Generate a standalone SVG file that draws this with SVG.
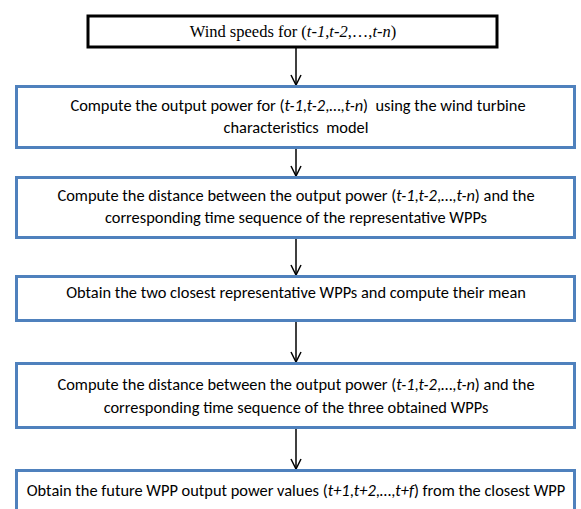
<svg xmlns="http://www.w3.org/2000/svg" width="581" height="509" viewBox="0 0 581 509">
<defs>
<style>
.box{fill:#fff;stroke:#4F81BD;stroke-width:3}
.box1{fill:#fff;stroke:#000;stroke-width:3}
.t{font-family:Calibri,Carlito,Lato,"Liberation Sans",sans-serif;font-size:16.4px;fill:#000;text-anchor:middle;white-space:pre}
.tt{font-family:"Liberation Serif","Times New Roman",serif;font-size:16.5px;fill:#000;text-anchor:middle}
.i{font-style:italic}
.c{stroke:#000;stroke-width:1.5;fill:none}
</style>
<marker id="ah" viewBox="0 0 12 12" refX="11" refY="6" markerWidth="12" markerHeight="12" markerUnits="userSpaceOnUse" orient="auto">
<path d="M1,1 L11,6 L1,11" fill="none" stroke="#000" stroke-width="1.5"/>
</marker>
</defs>
<rect width="581" height="509" fill="#fff"/>
<g id="connectors">
<line class="c" x1="296" y1="47" x2="296" y2="85" marker-end="url(#ah)"/>
<line class="c" x1="296" y1="148" x2="296" y2="176" marker-end="url(#ah)"/>
<line class="c" x1="296" y1="238" x2="296" y2="275" marker-end="url(#ah)"/>
<line class="c" x1="296" y1="321" x2="296" y2="362" marker-end="url(#ah)"/>
<line class="c" x1="296" y1="428" x2="296" y2="469" marker-end="url(#ah)"/>
</g>
<g id="n1">
<rect class="box1" x="88" y="16" width="409" height="31"/>
<text class="tt" x="293" y="37">Wind speeds for (<tspan class="i">t-1</tspan>,<tspan class="i">t-2</tspan>,…,<tspan class="i">t-n</tspan>)</text>
</g>
<g id="n2">
<rect class="box" x="16.5" y="86.5" width="558" height="61"/>
<text class="t" x="298" y="111" xml:space="preserve">Compute the output power for (<tspan class="i">t-1</tspan>,<tspan class="i">t-2</tspan>,…,<tspan class="i">t-n</tspan>)  using the wind turbine</text>
<text class="t" x="296" y="133" xml:space="preserve">characteristics  model</text>
</g>
<g id="n3">
<rect class="box" x="16.5" y="177.5" width="558" height="60"/>
<text class="t" x="296" y="201">Compute the distance between the output power (<tspan class="i">t-1</tspan>,<tspan class="i">t-2</tspan>,…,<tspan class="i">t-n</tspan>) and the</text>
<text class="t" x="296" y="223">corresponding time sequence of the representative WPPs</text>
</g>
<g id="n4">
<rect class="box" x="16.5" y="276.5" width="558" height="44"/>
<text class="t" x="296" y="298">Obtain the two closest representative WPPs and compute their mean</text>
</g>
<g id="n5">
<rect class="box" x="16.5" y="363.5" width="558" height="64"/>
<text class="t" x="296" y="390">Compute the distance between the output power (<tspan class="i">t-1</tspan>,<tspan class="i">t-2</tspan>,…,<tspan class="i">t-n</tspan>) and the</text>
<text class="t" x="296" y="413">corresponding time sequence of the three obtained WPPs</text>
</g>
<g id="n6">
<rect class="box" x="16.5" y="470.5" width="558" height="50"/>
<text class="t" x="296" y="496">Obtain the future WPP output power values (<tspan class="i">t+1</tspan>,<tspan class="i">t+2</tspan>,…,<tspan class="i">t+f</tspan>) from the closest WPP</text>
</g>
</svg>
